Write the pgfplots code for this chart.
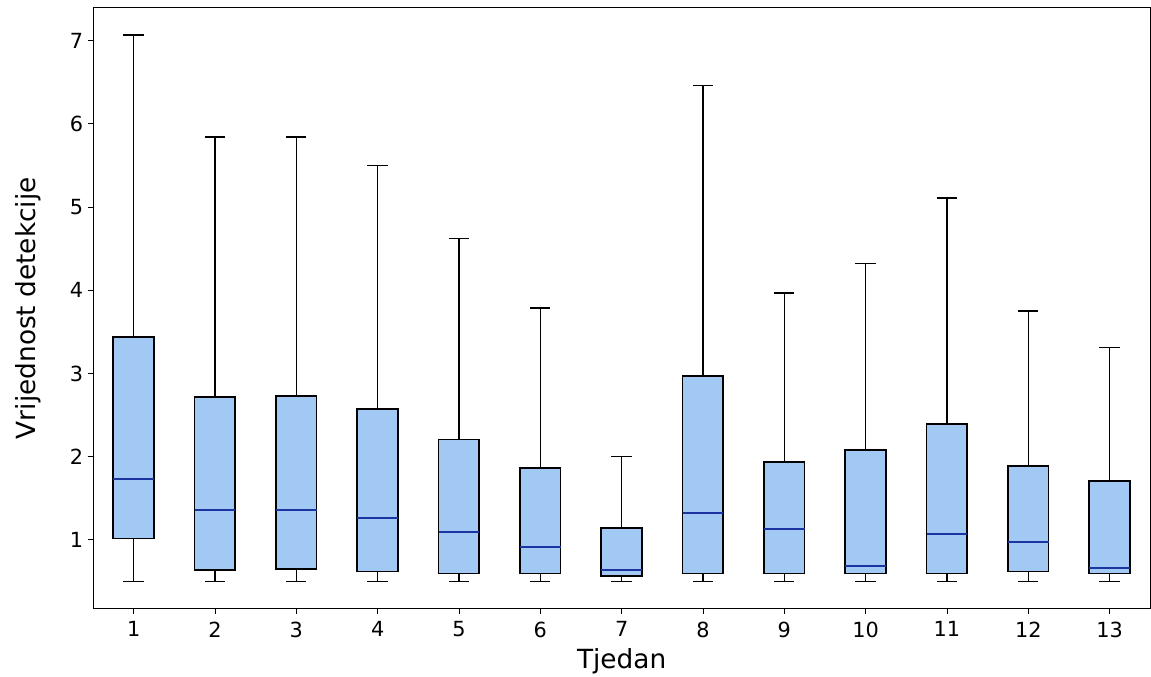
\documentclass[border=0pt]{standalone}
\usepackage{fontspec}
\setmainfont{DejaVu Sans}
\usepackage{pgfplots}
\pgfplotsset{compat=1.18}
\usepgfplotslibrary{statistics}

\definecolor{boxblue}{RGB}{161,201,244}
\definecolor{medblue}{RGB}{28,52,160}

\pgfplotsset{
  wk/.style={
    boxplot prepared={#1},
    boxplot/draw direction=y,
    draw=black, fill=boxblue, line width=1.2pt,
    boxplot/box extend=0.5,
    boxplot/whisker extend=0.25,
    boxplot/every median/.style={draw=medblue, line width=1.4pt},
    boxplot/every whisker/.style={line width=1.1pt},
  },
}

\begin{document}
\begin{tikzpicture}
\begin{axis}[
  name=ax,
  scale only axis,
  width=761.8pt, height=433.4pt,
  xmin=0.5, xmax=13.5,
  ymin=0.171, ymax=7.40,
  xtick={1,...,13},
  ytick={1,...,7},
  tick pos=left,
  tick align=outside,
  major tick length=3.6pt,
  axis line style={line width=0.7pt},
  tick style={black, line width=0.7pt},
  /pgf/number format/assume math mode=true,
  ticklabel style={font=\fontsize{15}{17}\selectfont},
  xticklabel style={yshift=-2pt},
  xlabel={Tjedan},
  ylabel={Vrijednost detekcije},
  xlabel style={at={(axis description cs:0.5,0)}, anchor=center, yshift=-38pt, font=\fontsize{19}{23}\selectfont},
  ylabel style={at={(axis description cs:0,0.5)}, anchor=center, yshift=47pt, font=\fontsize{19}{23}\selectfont},
]
\addplot[wk={lower whisker=0.5, lower quartile=1.016, median=1.728, upper quartile=3.44, upper whisker=7.07, draw position=1}] coordinates {};
\addplot[wk={lower whisker=0.5, lower quartile=0.636, median=1.364, upper quartile=2.716, upper whisker=5.84, draw position=2}] coordinates {};
\addplot[wk={lower whisker=0.5, lower quartile=0.652, median=1.364, upper quartile=2.728, upper whisker=5.84, draw position=3}] coordinates {};
\addplot[wk={lower whisker=0.5, lower quartile=0.62, median=1.264, upper quartile=2.576, upper whisker=5.50, draw position=4}] coordinates {};
\addplot[wk={lower whisker=0.5, lower quartile=0.596, median=1.096, upper quartile=2.208, upper whisker=4.62, draw position=5}] coordinates {};
\addplot[wk={lower whisker=0.5, lower quartile=0.596, median=0.916, upper quartile=1.868, upper whisker=3.79, draw position=6}] coordinates {};
\addplot[wk={lower whisker=0.5, lower quartile=0.568, median=0.636, upper quartile=1.14, upper whisker=2.0, draw position=7}] coordinates {};
\addplot[wk={lower whisker=0.5, lower quartile=0.596, median=1.324, upper quartile=2.968, upper whisker=6.46, draw position=8}] coordinates {};
\addplot[wk={lower whisker=0.5, lower quartile=0.596, median=1.128, upper quartile=1.94, upper whisker=3.97, draw position=9}] coordinates {};
\addplot[wk={lower whisker=0.5, lower quartile=0.596, median=0.688, upper quartile=2.08, upper whisker=4.32, draw position=10}] coordinates {};
\addplot[wk={lower whisker=0.5, lower quartile=0.596, median=1.068, upper quartile=2.392, upper whisker=5.11, draw position=11}] coordinates {};
\addplot[wk={lower whisker=0.5, lower quartile=0.62, median=0.972, upper quartile=1.888, upper whisker=3.75, draw position=12}] coordinates {};
\addplot[wk={lower whisker=0.5, lower quartile=0.596, median=0.664, upper quartile=1.704, upper whisker=3.31, draw position=13}] coordinates {};
\end{axis}
\pgfresetboundingbox
\useasboundingbox ([xshift=-67pt, yshift=-48.7pt]ax.south west) rectangle ([xshift=0.5pt, yshift=5.3pt]ax.north east);
\end{tikzpicture}
\end{document}
